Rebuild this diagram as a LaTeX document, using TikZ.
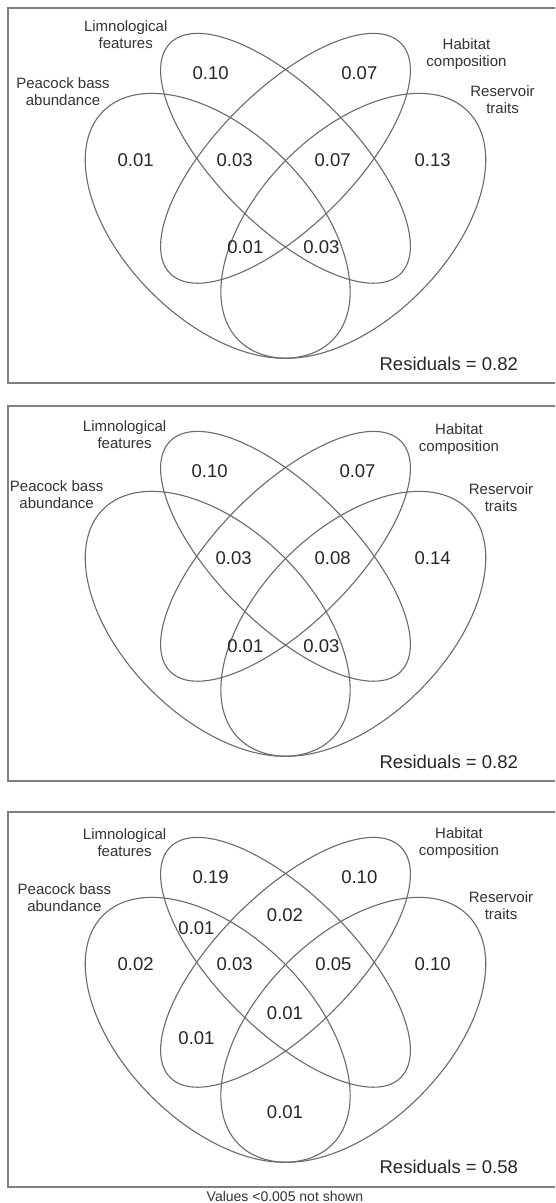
\documentclass[tikz,border=0pt]{standalone}
\usepackage{fontspec}
\setmainfont{Liberation Sans}
\newcommand\vennfour{%
  \draw[venn, rotate around={-45:(217.7,225.8)}] (217.7,225.8) ellipse [x radius=162pt, y radius=94pt];
  \draw[venn, rotate around={45:(353.3,225.8)}] (353.3,225.8) ellipse [x radius=162pt, y radius=94pt];
  \draw[venn, rotate around={-45:(285.5,158.3)}] (285.5,158.3) ellipse [x radius=163pt, y radius=68pt];
  \draw[venn, rotate around={45:(285.5,158.3)}] (285.5,158.3) ellipse [x radius=163pt, y radius=68pt];
  \draw[panelbox] (8,8) rectangle (562,383);
}
\begin{document}
\begin{tikzpicture}[x=1pt,y=-1pt,
  venn/.style={draw=black!58, line width=1.1pt},
  panelbox/.style={draw=black!50, line width=1.4pt},
  num/.style={font=\fontsize{18.5}{22}\selectfont, text=black!85, inner sep=0pt},
  lab/.style={font=\fontsize{15}{17}\selectfont, text=black!80, align=center, inner sep=0pt},
  foot/.style={font=\fontsize{14}{16}\selectfont, text=black!80, inner sep=0pt}]
\useasboundingbox[fill=white] (0,0) rectangle (555,1203);
\begin{scope}
  \clip (0,0) rectangle (555,1203);
  % panel 1
  \begin{scope}[shift={(0,0)}]\vennfour\end{scope}
  % panel 2
  \begin{scope}[shift={(0,398)}]\vennfour\end{scope}
  % panel 3
  \begin{scope}[shift={(0,804)}]\vennfour\end{scope}
\end{scope}

% ---- panel 1 texts
\node[lab] (l1a) at (125.7,34.5) {Limnological\\features};
\node[lab] (l1b) at (466.5,54.5) {Habitat\\composition};
\node[lab] (l1c) at (63,91.5) {Peacock bass\\abundance};
\node[lab] (l1d) at (502.5,99.5) {Reservoir\\traits};
\node[num] (n1a) at (210.6,72.7) {0.10};
\node[num] (n1b) at (359.3,72.7) {0.07};
\node[num] (n1c) at (135.6,160) {0.01};
\node[num] (n1d) at (234.7,160) {0.03};
\node[num] (n1e) at (332.7,160) {0.07};
\node[num] (n1f) at (432.6,160) {0.13};
\node[num] (n1g) at (245.3,246.7) {0.01};
\node[num] (n1h) at (321.4,246.7) {0.03};
\node[num] (r1) at (448.8,364.3) {Residuals = 0.82};

% ---- panel 2 texts
\node[lab] (l2a) at (124.6,434.3) {Limnological\\features};
\node[lab] (l2b) at (459,439.2) {Habitat\\composition};
\node[lab] (l2c) at (56.6,494.7) {Peacock bass\\abundance};
\node[lab] (l2d) at (501,497.2) {Reservoir\\traits};
\node[num] (n2a) at (209.6,471) {0.10};
\node[num] (n2b) at (357.5,471) {0.07};
\node[num] (n2d) at (233.6,558.3) {0.03};
\node[num] (n2e) at (332.7,558.3) {0.08};
\node[num] (n2f) at (432.6,558.3) {0.14};
\node[num] (n2g) at (245.3,645.7) {0.01};
\node[num] (n2h) at (321.4,645.7) {0.03};
\node[num] (r2) at (448.8,762.3) {Residuals = 0.82};

% ---- panel 3 texts
\node[lab] (l3a) at (124.6,843) {Limnological\\features};
\node[lab] (l3b) at (459,843) {Habitat\\composition};
\node[lab] (l3c) at (64.4,897.2) {Peacock bass\\abundance};
\node[lab] (l3d) at (501,905.7) {Reservoir\\traits};
\node[num] (n3a) at (210.6,876.7) {0.19};
\node[num] (n3b) at (359.3,876.7) {0.10};
\node[num] (n3c) at (285,915) {0.02};
\node[num] (n3i) at (196.5,927.7) {0.01};
\node[num] (n3d) at (135.6,964) {0.02};
\node[num] (n3e) at (234.7,964) {0.03};
\node[num] (n3f) at (333.5,964) {0.05};
\node[num] (n3g) at (432.6,964) {0.10};
\node[num] (n3h) at (285,1013.3) {0.01};
\node[num] (n3j) at (196.5,1038.3) {0.01};
\node[num] (n3k) at (285,1111.7) {0.01};
\node[num] (r3) at (448.8,1166.7) {Residuals = 0.58};
\node[foot] (ft) at (285,1196.7) {Values <0.005 not shown};
\end{tikzpicture}
\end{document}
